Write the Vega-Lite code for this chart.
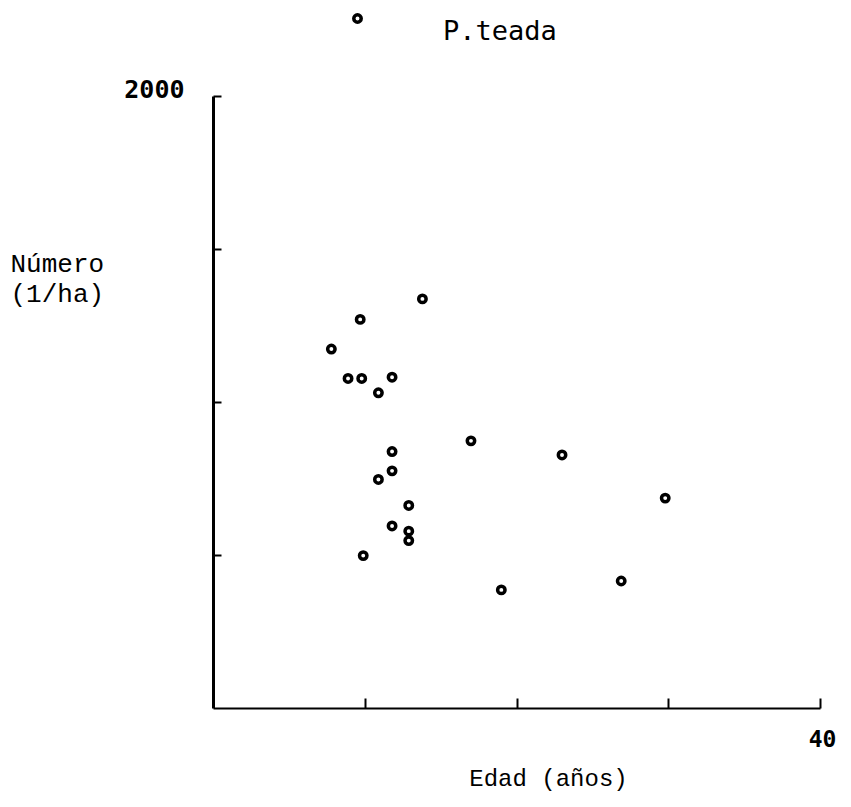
{
  "$schema": "https://vega.github.io/schema/vega-lite/v6.json",
  "width": 607,
  "height": 612,
  "autosize": {"type": "none"},
  "padding": {"left": 213, "top": 96, "right": 31, "bottom": 99},
  "background": "white",
  "config": {
    "view": {"stroke": null},
    "axis": {"grid": false, "domainColor": "black", "tickColor": "black", "labelColor": "black", "titleColor": "black"}
  },
  "data": {
    "values": [
      {"especie": "P.teada", "edad": 13.8, "numero": 1337},
      {"especie": "P.teada", "edad": 9.7, "numero": 1270},
      {"especie": "P.teada", "edad": 7.8, "numero": 1173},
      {"especie": "P.teada", "edad": 8.9, "numero": 1077},
      {"especie": "P.teada", "edad": 9.8, "numero": 1077},
      {"especie": "P.teada", "edad": 11.8, "numero": 1081},
      {"especie": "P.teada", "edad": 10.9, "numero": 1030},
      {"especie": "P.teada", "edad": 17.0, "numero": 873},
      {"especie": "P.teada", "edad": 11.8, "numero": 838},
      {"especie": "P.teada", "edad": 11.8, "numero": 775},
      {"especie": "P.teada", "edad": 10.9, "numero": 747},
      {"especie": "P.teada", "edad": 12.9, "numero": 662},
      {"especie": "P.teada", "edad": 11.8, "numero": 595},
      {"especie": "P.teada", "edad": 12.9, "numero": 578},
      {"especie": "P.teada", "edad": 12.9, "numero": 547},
      {"especie": "P.teada", "edad": 9.9, "numero": 498},
      {"especie": "P.teada", "edad": 23.0, "numero": 827},
      {"especie": "P.teada", "edad": 29.8, "numero": 686},
      {"especie": "P.teada", "edad": 19.0, "numero": 386},
      {"especie": "P.teada", "edad": 26.9, "numero": 415}
    ]
  },
  "mark": {"type": "point", "filled": false, "stroke": "black", "strokeWidth": 3.5, "size": 55, "opacity": 1, "clip": false},
  "encoding": {
    "x": {
      "field": "edad", "type": "quantitative",
      "scale": {"domain": [0, 40], "nice": false, "zero": true},
      "axis": {
        "title": "Edad (años)",
        "values": [10, 20, 30, 40],
        "labelExpr": "datum.value == 40 ? '40' : ''",
        "domainWidth": 2, "tickWidth": 2, "tickSize": -10,
        "labelFont": "DejaVu Sans Mono", "labelFontWeight": "bold", "labelFontSize": 23,
        "labelPadding": 30, "labelOffset": 2, "labelFlush": false,
        "titleFont": "Liberation Mono", "titleFontSize": 24, "titleFontWeight": "normal",
        "titleX": 335, "titleY": 70, "titleBaseline": "middle", "titleAlign": "center"
      }
    },
    "y": {
      "field": "numero", "type": "quantitative",
      "scale": {"domain": [0, 2000], "nice": false},
      "axis": {
        "title": ["Número", "(1/ha)"],
        "values": [500, 1000, 1500, 2000],
        "labelExpr": "datum.value == 2000 ? '2000' : ''",
        "domainWidth": 3, "tickWidth": 2, "tickSize": -8,
        "labelFont": "DejaVu Sans Mono", "labelFontWeight": "bold", "labelFontSize": 25,
        "labelPadding": 37, "labelOffset": -7, "labelBaseline": "middle", "labelFlush": false,
        "titleFont": "Liberation Mono", "titleFontSize": 26, "titleFontWeight": "normal",
        "titleAngle": 0, "titleAlign": "left", "titleBaseline": "middle",
        "titleX": -203, "titleY": 167, "titleLineHeight": 30
      }
    },
    "shape": {
      "field": "especie", "type": "nominal",
      "scale": {"range": ["circle"]},
      "legend": {
        "title": null, "orient": "none", "legendX": 131, "legendY": -91, "padding": 0,
        "symbolStrokeColor": "black", "symbolStrokeWidth": 3.5, "symbolSize": 55, "symbolFillColor": "white",
        "labelFont": "DejaVu Sans Mono", "labelFontSize": 27, "labelColor": "black",
        "labelOffset": 72, "labelBaseline": "top"
      }
    }
  }
}
